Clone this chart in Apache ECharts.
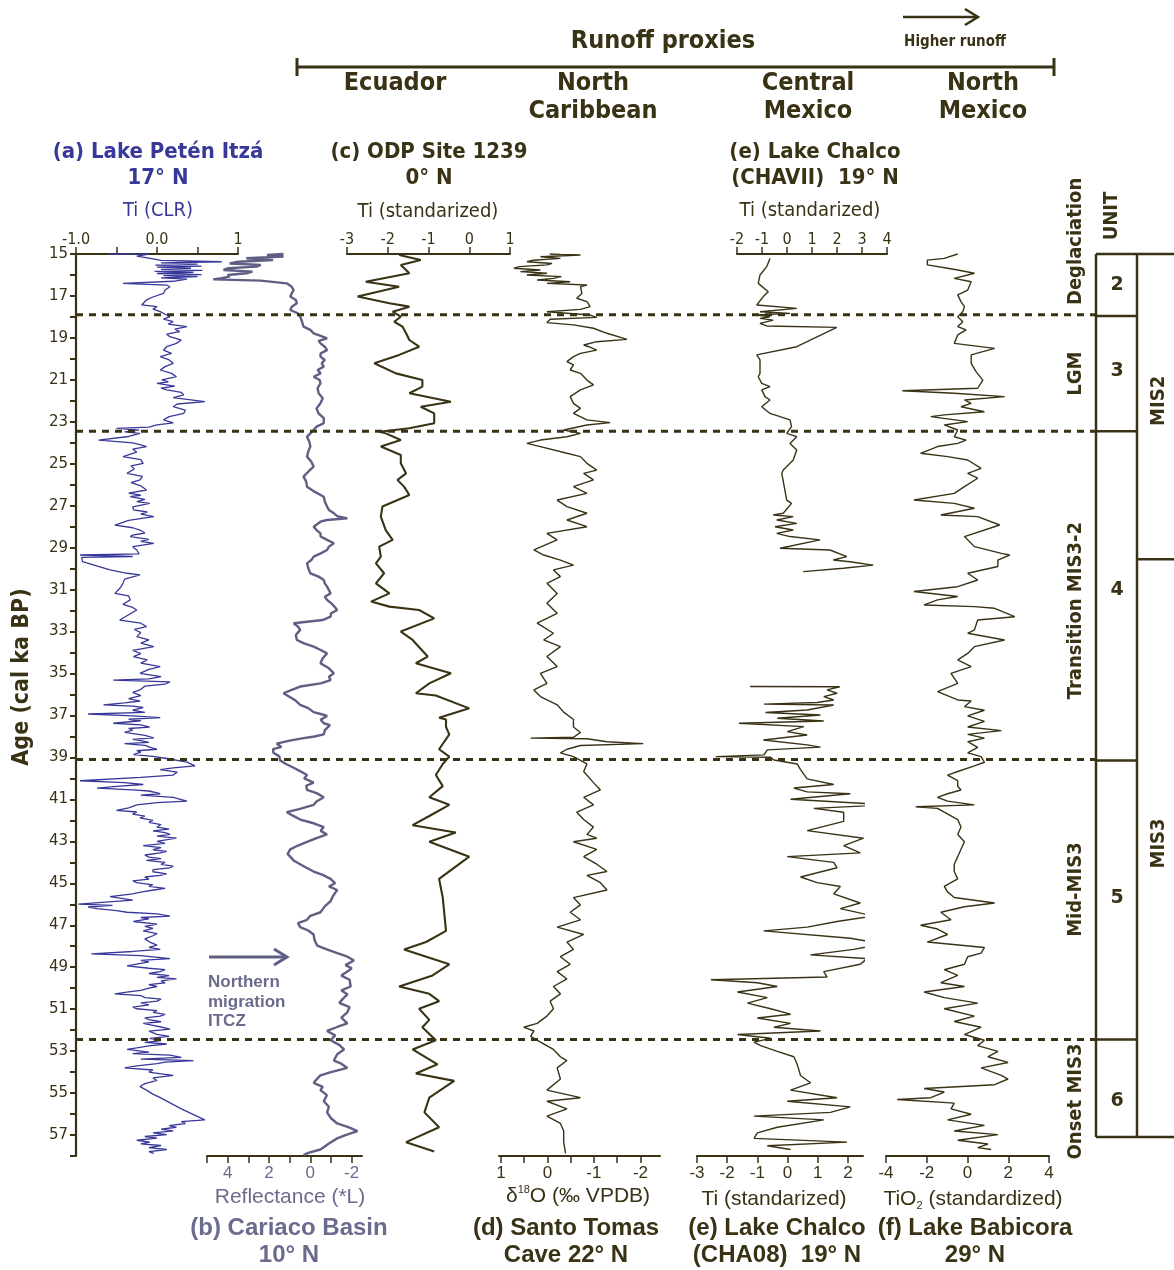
<!DOCTYPE html>
<html><head><meta charset="utf-8">
<script src="https://cdn.jsdelivr.net/npm/echarts@6.0.0/dist/echarts.min.js"></script>
<style>html,body{margin:0;padding:0;background:#fff}#c{width:1174px;height:1270px}</style>
</head><body><div id="c"></div>
<script>
// ---------- DATA: [age (cal ka BP), value] ----------
const petenTi = [[15.0,-0.6],[15.01,-0.1],[15.1,-0.25],[15.2,-0.1],[15.3,0.05],[15.37,0.8],[15.42,0.05],[15.48,0.5],[15.53,-0.02],[15.58,0.55],[15.63,0.0],[15.68,0.42],[15.73,0.05],[15.78,0.56],[15.83,-0.03],[15.88,0.45],[15.93,0.0],[15.98,0.55],[16.03,0.08],[16.08,0.5],[16.14,0.05],[16.2,0.37],[16.3,0.2],[16.4,-0.42],[16.48,0.12],[16.56,0.16],[16.72,0.1],[16.88,0.08],[17.05,-0.05],[17.19,-0.13],[17.43,-0.19],[17.51,0.0],[17.63,-0.05],[17.75,0.04],[17.87,0.1],[17.99,0.16],[18.1,0.08],[18.22,0.2],[18.34,0.14],[18.46,0.37],[18.58,0.22],[18.7,0.28],[18.82,0.12],[18.94,0.16],[19.1,0.3],[19.26,0.24],[19.42,0.12],[19.58,0.08],[19.74,0.18],[19.89,0.04],[20.05,0.15],[20.21,0.2],[20.37,0.1],[20.53,0.04],[20.69,0.18],[20.85,0.24],[21.0,0.06],[21.1,0.14],[21.17,0.0],[21.3,0.22],[21.4,0.05],[21.48,0.12],[21.6,0.3],[21.72,0.33],[21.85,0.2],[22.04,0.59],[22.15,0.25],[22.28,0.2],[22.44,0.35],[22.6,0.33],[22.75,0.15],[22.91,0.08],[23.05,0.2],[23.15,0.0],[23.25,-0.1],[23.31,-0.5],[23.4,-0.22],[23.48,-0.4],[23.55,-0.21],[23.7,-0.35],[23.87,-0.72],[24.0,-0.3],[24.1,-0.2],[24.18,-0.13],[24.3,-0.3],[24.45,-0.25],[24.66,-0.42],[24.8,-0.2],[24.98,-0.17],[25.1,-0.32],[25.25,-0.28],[25.46,-0.37],[25.6,-0.18],[25.77,-0.21],[25.9,-0.32],[26.05,-0.2],[26.25,-0.13],[26.4,-0.35],[26.5,-0.2],[26.57,-0.33],[26.7,-0.15],[26.8,-0.25],[26.89,-0.09],[27.05,-0.3],[27.2,-0.29],[27.3,-0.12],[27.4,-0.2],[27.52,-0.04],[27.7,-0.35],[27.92,-0.52],[28.05,-0.3],[28.16,-0.21],[28.3,-0.15],[28.4,-0.3],[28.47,-0.33],[28.6,-0.1],[28.7,-0.2],[28.79,-0.04],[28.95,-0.3],[29.11,-0.25],[29.3,-0.22],[29.35,-0.95],[29.42,-0.3],[29.46,-0.93],[29.67,-0.92],[30.06,-0.58],[30.22,-0.37],[30.3,-0.21],[30.5,-0.4],[30.7,-0.42],[30.9,-0.45],[31.18,-0.52],[31.3,-0.35],[31.49,-0.33],[31.7,-0.42],[31.85,-0.3],[31.97,-0.25],[32.2,-0.35],[32.45,-0.46],[32.6,-0.2],[32.76,-0.13],[32.9,-0.28],[33.05,-0.2],[33.24,-0.25],[33.4,-0.1],[33.55,-0.2],[33.72,-0.04],[33.9,-0.3],[34.05,-0.2],[34.19,-0.29],[34.35,-0.12],[34.5,-0.2],[34.67,0.04],[34.8,-0.1],[34.99,-0.21],[35.15,0.05],[35.25,-0.1],[35.31,-0.54],[35.4,0.16],[35.5,0.1],[35.6,-0.15],[35.78,-0.21],[35.9,-0.3],[36.05,-0.2],[36.2,-0.35],[36.31,-0.21],[36.4,-0.4],[36.49,-0.66],[36.55,-0.3],[36.62,-0.17],[36.75,-0.3],[36.85,-0.15],[36.93,-0.85],[37.02,-0.3],[37.1,0.04],[37.18,-0.35],[37.25,-0.2],[37.37,-0.54],[37.45,-0.2],[37.55,-0.09],[37.62,-0.35],[37.7,-0.3],[37.81,-0.4],[37.95,-0.15],[38.07,-0.04],[38.14,-0.3],[38.2,-0.2],[38.28,-0.1],[38.34,-0.4],[38.42,-0.15],[38.5,-0.1],[38.61,0.0],[38.68,-0.25],[38.75,-0.2],[38.87,-0.29],[38.95,-0.05],[39.05,0.12],[39.22,0.37],[39.4,0.47],[39.5,0.2],[39.58,0.04],[39.7,0.25],[39.84,0.2],[39.95,-0.2],[40.11,-0.95],[40.2,-0.4],[40.29,-0.17],[40.38,-0.5],[40.46,-0.74],[40.55,-0.3],[40.6,-0.1],[40.73,0.04],[40.8,-0.2],[40.9,0.2],[41.08,0.37],[41.15,0.0],[41.26,-0.25],[41.4,-0.35],[41.52,-0.5],[41.6,-0.25],[41.7,-0.3],[41.8,-0.15],[41.88,-0.21],[42.0,-0.05],[42.1,-0.1],[42.2,0.05],[42.32,0.0],[42.42,0.15],[42.5,-0.05],[42.58,0.1],[42.67,0.16],[42.75,0.0],[42.85,0.24],[43.0,0.0],[43.1,0.1],[43.2,-0.17],[43.3,0.05],[43.4,-0.05],[43.48,0.12],[43.55,0.04],[43.65,-0.15],[43.75,-0.1],[43.82,0.05],[43.91,-0.13],[44.0,0.1],[44.1,0.05],[44.18,0.2],[44.26,0.16],[44.35,-0.05],[44.45,-0.05],[44.55,0.12],[44.62,0.04],[44.7,-0.15],[44.8,-0.1],[44.88,-0.3],[44.97,-0.25],[45.07,-0.05],[45.15,-0.1],[45.24,0.1],[45.32,-0.04],[45.42,-0.2],[45.5,-0.3],[45.64,-0.58],[45.8,-0.3],[45.99,-0.97],[46.05,-0.55],[46.13,-0.85],[46.21,-0.74],[46.3,-0.5],[46.38,-0.37],[46.46,0.0],[46.56,0.16],[46.63,-0.2],[46.7,-0.1],[46.82,-0.29],[46.95,0.0],[47.05,-0.15],[47.15,-0.05],[47.27,-0.17],[47.4,0.0],[47.5,-0.05],[47.65,-0.15],[47.8,-0.09],[47.95,0.0],[48.05,-0.1],[48.15,0.04],[48.25,-0.3],[48.36,-0.81],[48.45,-0.2],[48.59,0.16],[48.67,-0.2],[48.75,-0.1],[48.85,-0.25],[48.94,-0.37],[49.05,-0.1],[49.12,0.1],[49.21,0.04],[49.3,-0.1],[49.4,0.15],[49.48,0.0],[49.56,0.24],[49.65,0.05],[49.75,0.1],[49.83,-0.1],[49.92,0.0],[50.0,-0.1],[50.1,-0.2],[50.18,-0.35],[50.27,-0.52],[50.35,-0.2],[50.45,-0.15],[50.52,0.05],[50.62,0.0],[50.7,-0.2],[50.8,-0.1],[50.9,-0.3],[50.98,-0.25],[51.07,0.0],[51.15,-0.05],[51.25,0.1],[51.33,0.04],[51.42,-0.15],[51.5,-0.1],[51.6,0.05],[51.68,-0.17],[51.77,-0.05],[51.85,0.05],[51.95,0.16],[52.05,-0.1],[52.2,0.0],[52.3,0.15],[52.39,-0.09],[52.5,0.05],[52.58,-0.15],[52.66,0.12],[52.75,-0.1],[52.85,-0.25],[52.92,-0.37],[53.05,-0.1],[53.12,-0.3],[53.19,0.16],[53.3,0.3],[53.38,-0.2],[53.45,0.45],[53.52,0.1],[53.6,0.0],[53.7,-0.25],[53.8,-0.4],[53.9,-0.05],[54.0,-0.1],[54.08,0.05],[54.16,0.2],[54.28,-0.05],[54.4,0.0],[54.55,-0.15],[54.69,-0.21],[54.86,-0.13],[55.05,-0.05],[55.22,0.04],[55.75,0.3],[56.28,0.59],[56.36,0.3],[56.45,0.35],[56.55,0.15],[56.63,0.24],[56.72,0.05],[56.8,0.2],[56.9,-0.05],[56.98,0.12],[57.07,-0.15],[57.15,0.0],[57.25,-0.25],[57.34,-0.09],[57.42,-0.2],[57.5,0.05],[57.6,-0.1],[57.69,0.12],[57.79,-0.1],[57.87,-0.04]];

const cariacoRefl = [[15.0,1.3],[15.05,2.1],[15.12,1.3],[15.2,3.1],[15.29,1.8],[15.37,3.5],[15.45,3.9],[15.52,2.4],[15.6,2.6],[15.68,4.0],[15.76,4.2],[15.84,2.8],[15.92,3.1],[16.0,4.0],[16.08,3.9],[16.15,4.3],[16.21,4.7],[16.27,2.4],[16.4,1.14],[16.56,0.9],[16.72,0.81],[16.88,0.9],[17.03,0.97],[17.19,0.7],[17.35,0.65],[17.51,0.9],[17.67,0.97],[17.83,0.6],[17.99,0.49],[18.23,0.4],[18.46,0.33],[18.62,0.0],[18.78,-0.16],[18.9,-0.5],[19.02,-0.81],[19.14,-0.4],[19.26,-0.49],[19.42,-0.7],[19.58,-0.81],[19.74,-0.5],[19.89,-0.49],[20.05,-0.7],[20.21,-0.55],[20.37,-0.65],[20.53,-0.35],[20.69,-0.5],[20.85,-0.16],[21.01,-0.45],[21.17,-0.49],[21.4,-0.35],[21.64,-0.4],[21.88,-0.6],[22.12,-0.49],[22.36,-0.3],[22.6,-0.4],[22.83,-0.65],[23.07,-0.65],[23.23,-0.3],[23.39,-0.16],[23.55,0.0],[23.71,0.16],[23.95,0.05],[24.18,0.0],[24.42,0.1],[24.66,0.16],[24.9,-0.05],[25.14,-0.16],[25.38,0.1],[25.61,0.33],[25.85,0.2],[26.09,0.16],[26.33,-0.2],[26.57,-0.65],[26.8,-0.7],[27.04,-0.81],[27.2,-0.9],[27.36,-1.14],[27.5,-1.3],[27.6,-1.79],[27.68,-0.8],[27.76,-0.49],[28.0,-0.16],[28.16,-0.3],[28.32,-0.49],[28.47,-0.5],[28.63,-0.81],[28.79,-1.14],[28.95,-0.9],[29.11,-0.81],[29.27,-0.5],[29.43,-0.16],[29.59,-0.05],[29.75,0.16],[29.98,0.1],[30.22,0.0],[30.38,-0.4],[30.54,-0.65],[30.7,-0.7],[30.86,-0.81],[31.02,-0.9],[31.18,-0.98],[31.34,-0.7],[31.49,-0.81],[31.73,-1.1],[31.97,-1.3],[32.13,-1.0],[32.29,-0.98],[32.45,-0.6],[32.6,0.81],[32.76,0.6],[32.92,0.49],[33.16,0.7],[33.4,0.65],[33.56,0.3],[33.72,-0.16],[33.88,-0.5],[34.04,-0.81],[34.27,-0.6],[34.51,-0.49],[34.75,-0.9],[34.99,-1.14],[35.15,-0.9],[35.31,-0.98],[35.47,-0.5],[35.62,0.49],[35.78,0.9],[35.94,1.3],[36.13,0.97],[36.3,0.7],[36.49,0.49],[36.65,0.1],[36.84,-0.16],[36.93,-0.5],[37.02,-0.81],[37.2,-0.5],[37.37,-0.65],[37.46,-0.95],[37.55,-0.98],[37.7,-0.7],[37.9,-0.65],[38.0,-0.2],[38.08,0.33],[38.2,1.0],[38.34,1.63],[38.5,1.4],[38.6,1.8],[38.78,1.79],[38.95,1.5],[39.14,1.46],[39.3,1.2],[39.49,0.81],[39.65,0.5],[39.84,0.16],[40.0,0.3],[40.2,-0.16],[40.35,0.2],[40.55,0.16],[40.7,-0.3],[40.9,-0.65],[41.1,-0.3],[41.26,-0.16],[41.45,0.5],[41.61,1.14],[41.8,0.8],[41.96,0.49],[42.15,-0.2],[42.32,-0.65],[42.5,-0.5],[42.67,-0.81],[42.85,-0.3],[43.02,0.16],[43.2,0.6],[43.38,0.97],[43.6,1.1],[43.91,0.81],[44.2,0.3],[44.44,-0.16],[44.6,-0.6],[44.79,-0.98],[45.0,-1.2],[45.15,-0.9],[45.32,-1.3],[45.6,-1.1],[45.85,-0.98],[46.1,-0.7],[46.38,-0.49],[46.55,0.0],[46.74,0.16],[46.9,0.6],[47.09,0.49],[47.25,0.1],[47.44,-0.16],[47.7,-0.2],[47.97,-0.33],[48.15,-0.8],[48.33,-1.3],[48.5,-1.8],[48.68,-2.11],[48.9,-1.7],[49.05,-2.0],[49.21,-1.79],[49.4,-1.5],[49.6,-1.9],[49.92,-1.95],[50.1,-1.5],[50.3,-1.8],[50.45,-1.63],[50.7,-1.4],[50.9,-1.9],[51.15,-1.79],[51.4,-1.5],[51.68,-1.79],[51.85,-1.3],[52.04,-0.81],[52.25,-1.2],[52.48,-0.98],[52.7,-1.4],[52.92,-1.63],[53.15,-1.3],[53.45,-1.14],[53.6,-1.5],[53.8,-1.79],[54.0,-1.0],[54.16,-0.49],[54.35,-0.3],[54.51,-0.16],[54.7,-0.6],[54.86,-0.49],[55.1,-0.8],[55.39,-0.65],[55.65,-0.9],[55.92,-0.81],[56.2,-1.0],[56.45,-1.3],[56.65,-1.9],[56.81,-2.28],[57.0,-1.7],[57.16,-1.3],[57.4,-0.9],[57.69,-0.49],[57.85,0.1],[57.96,0.33]];

const odpTi = [[15.05,-1.72],[15.29,-1.19],[15.52,-1.68],[15.92,-1.47],[16.32,-2.54],[16.56,-1.72],[17.03,-2.74],[17.35,-1.96],[17.51,-1.47],[17.75,-1.88],[17.99,-1.68],[18.23,-1.84],[18.46,-1.64],[18.78,-1.55],[19.1,-1.47],[19.42,-1.23],[19.81,-1.72],[20.21,-2.33],[20.69,-1.8],[21.01,-1.15],[21.32,-1.15],[21.64,-1.47],[22.04,-0.45],[22.28,-1.19],[22.6,-0.86],[23.07,-0.86],[23.31,-1.47],[23.47,-2.21],[23.55,-2.05],[23.87,-1.68],[24.18,-2.17],[24.58,-1.68],[24.98,-1.68],[25.46,-1.55],[25.77,-1.76],[26.09,-1.6],[26.49,-1.47],[27.04,-2.13],[27.52,-2.17],[28.16,-2.05],[28.63,-1.88],[28.95,-2.21],[29.43,-2.17],[29.75,-2.29],[30.22,-2.09],[30.7,-2.29],[31.18,-1.96],[31.57,-2.41],[31.81,-1.96],[31.97,-1.23],[32.37,-0.86],[33.0,-1.68],[33.4,-1.39],[34.19,-1.02],[34.51,-1.31],[34.99,-0.45],[35.47,-0.98],[35.94,-1.31],[36.05,-0.82],[36.66,0.0],[37.11,-0.74],[37.19,-0.57],[37.55,-0.57],[37.9,-0.49],[38.61,-0.74],[38.96,-0.49],[39.31,-0.65],[39.84,-0.82],[40.37,-0.65],[40.9,-0.98],[41.26,-0.49],[41.79,-0.98],[42.23,-1.39],[42.58,-0.33],[43.02,-0.98],[43.73,0.0],[44.79,-0.74],[45.68,-0.65],[47.27,-0.57],[47.8,-1.06],[48.15,-1.6],[48.86,-0.49],[49.39,-0.9],[49.92,-1.72],[50.27,-0.98],[50.62,-0.74],[50.98,-1.23],[51.51,-0.98],[51.86,-1.15],[52.48,-0.82],[52.92,-1.39],[53.63,-0.78],[54.07,-1.31],[54.42,-0.37],[55.22,-0.98],[55.92,-1.1],[56.63,-0.74],[57.34,-1.55],[57.78,-0.86]];

const stomasO18 = [[15.0,-0.05],[15.02,-0.28],[15.05,-0.71],[15.13,0.15],[15.21,-0.28],[15.3,0.3],[15.37,0.44],[15.45,-0.1],[15.52,0.01],[15.6,0.6],[15.68,0.72],[15.76,0.15],[15.84,0.58],[15.92,0.01],[16.0,0.44],[16.08,-0.3],[16.16,-0.13],[16.24,0.22],[16.32,-0.49],[16.4,0.01],[16.48,-0.85],[16.56,-0.71],[16.88,-0.74],[17.11,-0.63],[17.27,-0.85],[17.51,-0.92],[17.64,-0.71],[17.75,0.01],[17.91,-0.92],[18.02,-1.06],[18.11,-0.06],[18.27,0.01],[18.38,-0.56],[18.54,-0.99],[18.78,-1.28],[19.07,-1.71],[19.18,-1.06],[19.34,-0.78],[19.42,-0.89],[19.58,-1.06],[19.74,-0.71],[19.89,-0.56],[20.13,-0.42],[20.29,-0.56],[20.53,-0.49],[20.69,-0.71],[21.01,-0.85],[21.24,-0.99],[21.48,-0.71],[21.8,-0.49],[22.12,-0.56],[22.36,-0.71],[22.6,-0.56],[22.91,-0.85],[23.04,-1.35],[23.15,-0.85],[23.39,-0.35],[23.55,-0.71],[23.71,-0.42],[23.87,0.15],[24.03,0.44],[24.18,0.15],[24.5,-0.42],[24.66,-0.71],[24.98,-0.85],[25.3,-1.06],[25.46,-0.78],[25.77,-0.99],[26.09,-0.56],[26.41,-0.85],[26.73,-0.21],[27.04,-0.42],[27.36,-0.85],[27.68,-0.42],[28.0,-0.85],[28.32,0.01],[28.63,-0.21],[29.11,0.29],[29.35,0.08],[29.59,-0.28],[29.83,-0.56],[30.06,-0.13],[30.38,-0.28],[30.7,0.01],[31.18,-0.21],[31.65,0.01],[32.13,-0.21],[32.6,0.22],[33.08,-0.13],[33.4,0.08],[33.72,-0.28],[34.19,0.01],[34.67,-0.21],[34.99,0.15],[35.47,0.01],[35.78,0.29],[36.1,0.15],[36.49,-0.21],[36.84,-0.35],[37.19,-0.56],[37.55,-0.56],[37.81,-0.71],[38.04,-0.56],[38.08,0.36],[38.11,-0.85],[38.25,-1.28],[38.34,-2.06],[38.43,-0.71],[38.61,-0.42],[38.78,-0.28],[38.96,-0.56],[39.31,-0.85],[39.67,-0.78],[40.2,-0.99],[40.55,-1.14],[40.9,-0.78],[41.26,-0.99],[41.61,-0.63],[41.96,-0.78],[42.32,-0.99],[42.67,-0.85],[42.85,-1.06],[43.02,-0.56],[43.38,-1.06],[43.73,-0.78],[44.09,-1.06],[44.44,-1.28],[44.62,-0.85],[44.97,-1.14],[45.32,-1.28],[45.68,-0.56],[46.03,-0.71],[46.38,-0.49],[46.74,-0.71],[47.09,-0.21],[47.44,-0.78],[47.8,-0.42],[48.15,-0.56],[48.5,-0.28],[48.86,-0.49],[49.21,-0.21],[49.56,-0.42],[49.92,-0.13],[50.27,-0.28],[50.62,-0.06],[50.98,-0.13],[51.33,0.01],[51.68,0.22],[51.86,0.51],[52.04,0.29],[52.3,0.36],[52.57,0.15],[52.92,-0.13],[53.27,-0.28],[53.45,-0.42],[53.8,-0.21],[54.33,-0.28],[54.86,0.01],[55.22,-0.71],[55.39,0.01],[55.75,-0.42],[56.1,0.01],[56.45,-0.28],[56.81,-0.35],[57.34,-0.35],[57.87,-0.39]];

const chalcoVII = [[15.21,-0.68],[15.6,-0.81],[16.0,-1.08],[16.4,-1.15],[16.8,-0.75],[17.03,-0.95],[17.43,-1.21],[17.59,0.39],[17.75,-1.08],[17.83,0.12],[17.91,-1.21],[17.99,-0.68],[18.07,-1.08],[18.15,-0.55],[18.31,-1.08],[18.43,-0.81],[18.5,1.99],[19.42,0.39],[19.81,-1.21],[20.05,-1.08],[20.69,-1.08],[20.85,-1.15],[21.17,-1.01],[21.32,-0.68],[21.48,-1.01],[21.8,-0.88],[21.96,-0.68],[22.28,-1.01],[22.6,-0.68],[22.91,0.12],[23.23,0.18],[23.55,-0.01],[23.71,0.39],[24.03,0.12],[24.34,0.39],[24.82,0.25],[25.3,-0.15],[25.46,-0.21],[26.73,-0.01],[26.89,0.18],[27.36,-0.15],[27.44,-0.55],[27.52,0.25],[27.68,-0.41],[27.84,0.39],[28.0,-0.48],[28.16,0.25],[28.32,-0.41],[28.47,0.12],[28.63,1.32],[29.03,-0.28],[29.11,1.72],[29.43,2.39],[29.59,1.85],[29.67,2.52],[29.83,3.45],[29.98,2.25],[30.14,0.65]];

const chalco08 = [[35.62,-1.24],[35.63,1.73],[35.78,1.31],[35.94,1.64],[36.1,1.2],[36.26,1.53],[36.38,0.98],[36.46,-0.78],[36.5,1.53],[36.74,0.65],[36.86,-0.73],[36.98,1.09],[37.13,-0.34],[37.26,1.2],[37.37,-1.61],[37.53,0.54],[37.77,-0.01],[37.93,0.65],[38.17,-0.8],[38.4,0.65],[38.51,1.09],[38.64,-0.67],[38.88,-0.78],[38.96,-2.38],[38.99,-0.56],[39.12,-0.45],[39.31,0.32],[39.58,0.43],[40.02,0.65],[40.29,1.53],[40.46,0.21],[40.64,0.65],[40.73,2.08],[40.99,0.1],[41.26,3.29],[41.43,0.87],[41.61,1.86],[42.05,1.86],[42.49,0.65],[42.85,2.52],[43.2,1.86],[43.55,2.41],[43.73,-0.01],[44.0,1.53],[44.26,1.64],[44.7,0.43],[44.97,0.98],[45.15,1.75],[45.5,1.53],[45.94,2.41],[46.21,1.75],[46.56,2.85],[46.82,1.64],[47.09,0.65],[47.27,-0.79],[47.62,2.08],[47.88,3.18],[48.15,2.19],[48.41,0.76],[48.59,2.63],[48.86,2.41],[49.21,1.2],[49.47,1.31],[49.6,-2.54],[49.74,-1.0],[49.92,-0.34],[50.18,-1.66],[50.45,-0.67],[50.71,-1.33],[50.98,-0.56],[51.24,0.1],[51.42,-1.0],[51.68,0.1],[51.86,-0.45],[52.04,1.09],[52.21,-1.66],[52.39,-0.56],[52.57,-1.11],[52.74,-0.89],[53.01,-0.34],[53.27,0.21],[53.63,0.32],[54.16,0.43],[54.51,0.76],[54.86,0.1],[55.22,1.64],[55.39,-0.01],[55.66,2.08],[55.92,1.42],[56.1,-1.11],[56.28,1.2],[56.63,-0.34],[56.9,-1.0],[57.16,-1.11],[57.34,1.97],[57.51,-0.67],[57.69,0.1]];

const babicoraTi = [[15.0,-0.48],[15.21,-1.14],[15.29,-1.97],[15.52,-1.97],[15.68,-0.98],[15.76,-0.48],[15.92,0.34],[16.16,-0.65],[16.32,0.18],[16.72,0.01],[16.95,-0.48],[17.27,-0.32],[17.51,-0.15],[17.75,-0.23],[17.99,-0.48],[18.23,-0.23],[18.46,-0.48],[18.62,-0.07],[18.86,-0.48],[19.26,-0.65],[19.5,1.33],[19.81,0.18],[20.21,0.18],[20.61,0.42],[21.01,0.75],[21.4,0.5],[21.52,-3.2],[21.64,-0.65],[21.8,1.82],[21.96,-0.15],[22.12,0.18],[22.28,-0.32],[22.52,0.83],[22.67,-1.14],[22.75,-1.8],[22.99,0.01],[23.15,-1.14],[23.39,-0.48],[23.71,-0.65],[23.87,-0.07],[24.03,-0.48],[24.18,-1.47],[24.5,-2.3],[24.66,-0.98],[24.82,0.01],[25.22,0.67],[25.46,0.01],[25.69,0.5],[26.09,-0.15],[26.41,-0.65],[26.73,-2.63],[26.89,-0.65],[27.12,0.34],[27.44,-1.31],[27.52,0.5],[27.92,1.58],[28.47,-0.15],[28.95,0.34],[29.27,1.66],[29.35,2.07],[29.59,1.49],[29.9,1.49],[30.22,0.01],[30.54,0.5],[30.86,-0.48],[31.09,-2.63],[31.33,-0.48],[31.49,-1.47],[31.73,-2.13],[31.81,0.34],[31.89,1.33],[32.29,2.32],[32.45,0.5],[32.92,0.34],[33.08,0.01],[33.4,1.82],[33.72,0.34],[34.04,0.01],[34.35,-0.48],[34.67,0.18],[34.99,-0.81],[35.47,-0.48],[35.86,-1.47],[36.26,-0.48],[36.31,0.18],[36.58,-0.15],[36.75,0.83],[37.02,0.01],[37.28,0.83],[37.55,0.01],[37.72,1.66],[37.9,0.01],[38.08,0.83],[38.25,0.01],[38.52,0.5],[38.78,0.01],[38.96,0.67],[39.23,0.83],[39.4,0.34],[39.67,-0.48],[39.84,-0.98],[40.11,-0.48],[40.37,-0.48],[40.55,-0.32],[40.73,-0.98],[40.9,-1.47],[41.08,-0.98],[41.26,0.34],[41.35,-2.54],[41.43,-1.47],[41.61,-1.14],[41.96,-0.48],[42.32,-0.32],[42.67,-0.48],[43.02,-0.15],[43.38,-0.32],[43.73,-0.48],[44.09,-0.65],[44.44,-0.65],[44.79,-0.48],[45.15,-1.14],[45.41,-0.98],[45.68,-0.65],[45.94,1.33],[46.12,-0.15],[46.38,-1.31],[46.74,-0.81],[47.0,-2.3],[47.18,-1.47],[47.44,-0.98],[47.8,-1.97],[48.06,0.83],[48.33,0.67],[48.5,0.01],[48.86,-0.15],[49.12,-1.14],[49.39,-0.48],[49.74,-1.31],[49.92,-0.15],[50.18,-2.13],[50.45,-1.14],[50.71,0.5],[50.98,-1.14],[51.33,0.34],[51.59,-0.65],[51.86,0.67],[52.21,-0.15],[52.48,0.83],[52.74,0.5],[53.01,1.49],[53.27,1.0],[53.54,1.99],[53.8,0.67],[54.16,1.66],[54.33,1.99],[54.6,1.33],[54.78,-2.13],[54.95,-1.14],[55.22,-1.8],[55.31,-3.45],[55.48,-0.65],[55.75,-0.81],[56.01,0.18],[56.28,-0.98],[56.54,0.83],[56.81,-0.65],[56.98,1.49],[57.25,-0.48],[57.43,1.0],[57.6,0.5],[57.69,1.16]];

// interval boundaries (ka)
const periodBounds = [17.9, 23.45, 39.1, 52.45];
const unitBounds = [15, 17.95, 23.45, 39.15, 52.45, 57.1];
const misBounds = [15, 29.55, 57.1];
const unitLabels = [['2',16.5],['3',20.6],['4',31.0],['5',45.7],['6',55.4]];
const periodLabels = [['Deglaciation',14.4],['LGM',20.7],['Transition MIS3-2',32.0],['Mid-MIS3',45.3],['Onset MIS3',55.4]];
const misLabels = [['MIS2',22.0],['MIS3',43.1]];

// tick values
const ageMin = 15, ageMax = 58;
const reflTicks = [5,4,3,2,1,0,-1,-2], reflLabels = [4,2,0,-2];
const o18Ticks = [1,0.5,0,-0.5,-1,-1.5,-2], o18Labels = [1,0,-1,-2];
const cha08Ticks = [-3,-2,-1,0,1,2];

// ---------- STYLE ----------
const DARK = '#3a3215', BLUE = '#38389a', GRAY = '#5f5f84', GRAYT = '#6b6b8e';
const NARROW = "'Liberation Sans Narrow','Arial Narrow','DejaVu Sans Condensed',sans-serif";
const SANS = "'Liberation Sans',Arial,sans-serif";

const TOP = 254, H = 902;
const grids = [
  {left:76, width:162}, {left:207, width:155}, {left:347, width:163}, {left:499, width:161},
  {left:737, width:150}, {left:697, width:166}, {left:886, width:163}
].map(g => Object.assign({top:TOP, height:H, containLabel:false, outerBoundsMode:'none'}, g));

const yAxes = grids.map((g,i) => i===0 ? {
  gridIndex:0, type:'value', min:ageMin, max:ageMax, interval:1, inverse:true, position:'left',
  axisLine:{show:true, onZero:false, lineStyle:{color:DARK, width:2.2}},
  axisTick:{show:true, length:6, lineStyle:{color:DARK, width:2}},
  axisLabel:{formatter:v => (v%2===1 && v<58) ? String(v) : '', color:DARK, fontFamily:'DejaVu Sans', fontSize:15, margin:8},
  splitLine:{show:false}
} : {gridIndex:i, type:'value', min:ageMin, max:ageMax, inverse:true, show:false, axisLine:{onZero:false}});

const axisLine = {show:true, onZero:false, lineStyle:{color:DARK, width:2}};
const tick = {show:true, length:7, lineStyle:{color:DARK, width:1.5}};
const topLbl = (c) => ({color:c, fontFamily:NARROW, fontSize:16, margin:6});
const botLbl = (c) => ({color:c, fontFamily:SANS, fontSize:17, margin:9});

const xAxes = [
  {gridIndex:0, type:'value', position:'top', min:-1, max:1, interval:0.5, axisLine, axisTick:tick,
   axisLabel:Object.assign(topLbl(DARK), {formatter:v => v===-1?'-1.0':(v===0?'0.0':(v===1?'1':''))}), splitLine:{show:false}},
  {gridIndex:1, type:'value', position:'bottom', min:-2.5, max:5, inverse:true, axisLine,
   axisTick:Object.assign({customValues:reflTicks}, tick),
   axisLabel:Object.assign(botLbl(GRAYT), {customValues:reflLabels}), splitLine:{show:false}},
  {gridIndex:2, type:'value', position:'top', min:-3, max:1, interval:1, axisLine, axisTick:tick,
   axisLabel:topLbl(DARK), splitLine:{show:false}},
  {gridIndex:3, type:'value', position:'bottom', min:-2.42, max:1.04, inverse:true, axisLine,
   axisTick:Object.assign({customValues:o18Ticks}, tick),
   axisLabel:Object.assign(botLbl(DARK), {customValues:o18Labels}), splitLine:{show:false}},
  {gridIndex:4, type:'value', position:'top', min:-2, max:4, interval:1, axisLine, axisTick:tick,
   axisLabel:topLbl(DARK), splitLine:{show:false}},
  {gridIndex:5, type:'value', position:'bottom', min:-3, max:2.5, axisLine,
   axisTick:Object.assign({customValues:cha08Ticks}, tick),
   axisLabel:Object.assign(botLbl(DARK), {customValues:cha08Ticks}), splitLine:{show:false}},
  {gridIndex:6, type:'value', position:'bottom', min:-4, max:4, interval:2, axisLine, axisTick:tick,
   axisLabel:botLbl(DARK), splitLine:{show:false}}
];

function ln(idx, arr, color, width) {
  return {type:'line', xAxisIndex:idx, yAxisIndex:idx, data:arr.map(d => [d[1], d[0]]),
    showSymbol:false, symbol:'none', clip:false, silent:true, animation:false,
    lineStyle:{color:color, width:width}};
}

const chart = echarts.init(document.getElementById('c'), null, {renderer:'canvas'});
chart.setOption({
  animation:false, backgroundColor:'#fff',
  grid:grids, xAxis:xAxes, yAxis:yAxes,
  series:[
    ln(0, petenTi, BLUE, 1.3),
    ln(1, cariacoRefl, GRAY, 2.4),
    ln(2, odpTi, DARK, 2.1),
    ln(3, stomasO18, DARK, 1.4),
    ln(4, chalcoVII, DARK, 1.4),
    ln(5, chalco08, DARK, 1.4),
    ln(6, babicoraTi, DARK, 1.4)
  ]
});

// ---------- annotations ----------
const yPx = a => chart.convertToPixel({yAxisIndex:0}, a);
const G = [];
function T(x, y, text, font, fill, rot, align) {
  G.push({type:'text', x:x, y:y, rotation:rot||0, silent:true, z:10,
    style:{text:text, font:font, fill:fill, align:align||'center', verticalAlign:'middle',
      textAlign:align||'center', textVerticalAlign:'middle'}});
}
function L(x1,y1,x2,y2,w,c,dash) {
  G.push({type:'line', silent:true, z:9, shape:{x1,y1,x2,y2},
    style:{stroke:c||DARK, lineWidth:w||2.5, lineDash:dash||null}});
}
function P(pts,w,c) { G.push({type:'polyline', silent:true, z:9, shape:{points:pts}, style:{stroke:c, lineWidth:w, fill:null}}); }

const BH = 'bold 25px ' + NARROW, BT = 'bold 22px ' + NARROW, BB = 'bold 24px ' + SANS;
// header
T(663, 41, 'Runoff proxies', BH, DARK);
L(296, 67, 1055, 67, 3); L(297, 58, 297, 76, 3); L(1054, 58, 1054, 76, 3);
L(903, 17, 976, 17, 2.5); P([[965,9],[978,17],[965,25]], 2.5, DARK);
T(955, 42, 'Higher runoff', 'bold 15px ' + NARROW, DARK);
T(395, 83, 'Ecuador', BH, DARK);
T(593, 83, 'North', BH, DARK); T(593, 111, 'Caribbean', BH, DARK);
T(808, 83, 'Central', BH, DARK); T(808, 111, 'Mexico', BH, DARK);
T(983, 83, 'North', BH, DARK); T(983, 111, 'Mexico', BH, DARK);
T(158, 152, '(a) Lake Petén Itzá', BT, BLUE); T(158, 178, '17° N', BT, BLUE);
T(429, 152, '(c) ODP Site 1239', BT, DARK); T(429, 178, '0° N', BT, DARK);
T(815, 152, '(e) Lake Chalco', BT, DARK); T(815, 178, '(CHAVII)  19° N', BT, DARK);
T(158, 211, 'Ti (CLR)', '20px ' + NARROW, BLUE);
T(428, 212, 'Ti (standarized)', '20px ' + NARROW, DARK);
T(810, 211, 'Ti (standarized)', '20px ' + NARROW, DARK);
// bottom names
T(290, 1197, 'Reflectance (*L)', '21px ' + SANS, GRAYT);
T(289, 1228, '(b) Cariaco Basin', BB, GRAYT);
T(289, 1255, '10° N', BB, GRAYT);
G.push({type:'text', x:578, y:1196, silent:true, z:10, style:{text:'{a|δ}{s|18}{a|O (‰ VPDB)}', align:'center', verticalAlign:'middle', textAlign:'center', textVerticalAlign:'middle',
  rich:{a:{font:'21px ' + SANS, fill:DARK, color:DARK, lineHeight:24}, s:{font:'11px ' + SANS, fill:DARK, color:DARK, lineHeight:11, verticalAlign:'top'}}}});
T(566, 1228, '(d) Santo Tomas', BB, DARK);
T(566, 1255, 'Cave 22° N', BB, DARK);
T(774, 1199, 'Ti (standarized)', '21px ' + SANS, DARK);
T(777, 1228, '(e) Lake Chalco', BB, DARK);
T(777, 1255, '(CHA08)  19° N', BB, DARK);
G.push({type:'text', x:973, y:1199, silent:true, z:10, style:{text:'{a|TiO}{s|2}{a| (standardized)}', align:'center', verticalAlign:'middle', textAlign:'center', textVerticalAlign:'middle',
  rich:{a:{font:'21px ' + SANS, fill:DARK, color:DARK, lineHeight:24}, s:{font:'11px ' + SANS, fill:DARK, color:DARK, lineHeight:11, verticalAlign:'bottom'}}}});
T(975, 1228, '(f) Lake Babicora', BB, DARK);
T(975, 1255, '29° N', BB, DARK);
// left axis name
T(22, 677, 'Age (cal ka BP)', 'bold 23px ' + NARROW, DARK, Math.PI/2);
// ITCZ arrow
L(209, 957, 284, 957, 3, GRAY); P([[274,949],[287,957],[274,965]], 3, GRAY);
T(208, 982, 'Northern', 'bold 17px ' + SANS, GRAYT, 0, 'left');
T(208, 1002, 'migration', 'bold 17px ' + SANS, GRAYT, 0, 'left');
T(208, 1021, 'ITCZ', 'bold 17px ' + SANS, GRAYT, 0, 'left');
// dashed period boundaries
periodBounds.forEach(a => { const y = yPx(a); L(76, y, 1096, y, 3, DARK, [7,6]); });
// unit box
const yT = yPx(unitBounds[0]), yB = yPx(unitBounds[unitBounds.length-1]);
L(1096, yT, 1096, yB, 2.5); L(1137, yT, 1137, yB, 2.5);
unitBounds.forEach(a => { const y = yPx(a); L(1096, y, 1137, y, 2.5); });
misBounds.forEach(a => { const y = yPx(a); L(1137, y, 1174, y, 2.5); });
unitLabels.forEach(u => T(1117, yPx(u[1]), u[0], 'bold 19px DejaVu Sans', DARK));
periodLabels.forEach(p => T(1076, yPx(p[1]), p[0], 'bold 20px ' + NARROW, DARK, Math.PI/2));
misLabels.forEach(m => T(1159, yPx(m[1]), m[0], 'bold 20px ' + NARROW, DARK, Math.PI/2));
T(1112, 216, 'UNIT', 'bold 20px ' + NARROW, DARK, Math.PI/2);

chart.setOption({graphic:{elements:G}});
</script></body></html>
